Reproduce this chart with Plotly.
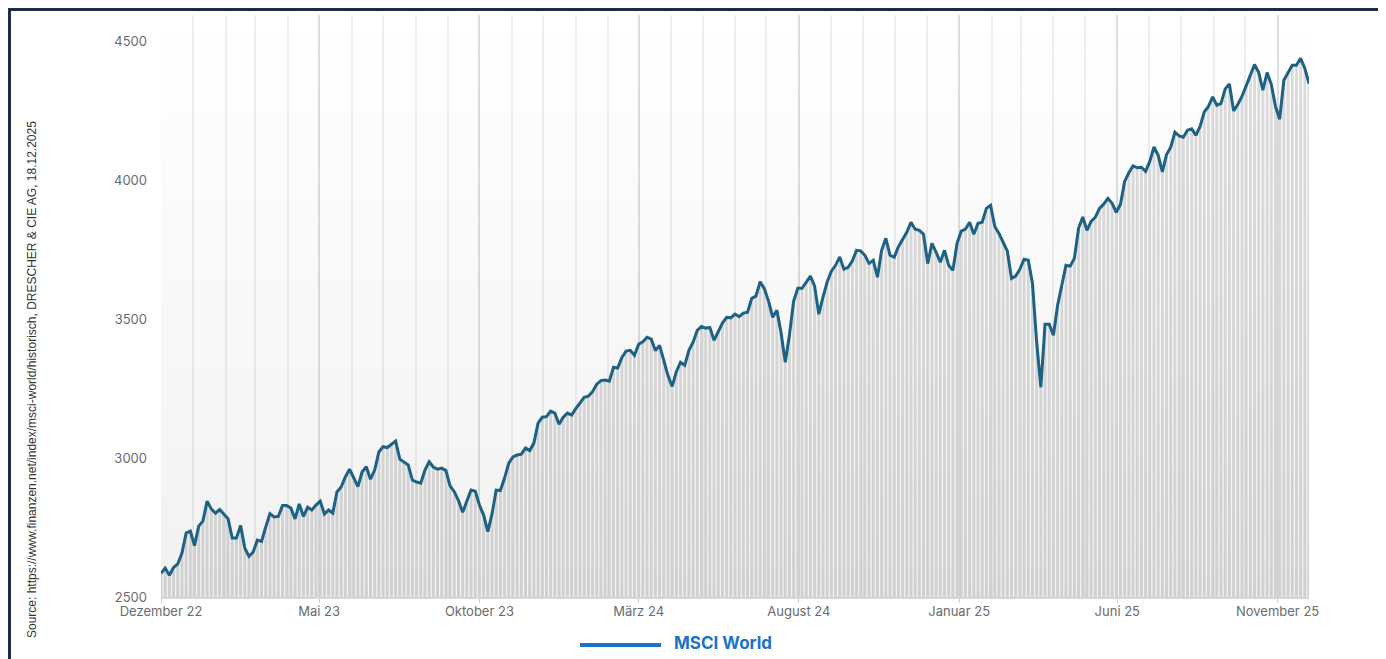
import pandas as pd
import plotly.graph_objects as go

# ---------------- data ----------------
START_DATE = "2022-12-18"
END_DATE = "2025-12-18"
STEP_DAYS = 4

msci_world = [
    2585, 2604, 2578, 2606, 2619, 2658, 2730, 2737, 2685, 2755,
    2773, 2845, 2817, 2802, 2815, 2799, 2782, 2712, 2712, 2757,
    2676, 2646, 2662, 2705, 2700, 2752, 2800, 2788, 2790, 2829,
    2829, 2820, 2781, 2835, 2790, 2823, 2813, 2831, 2845, 2799,
    2813, 2802, 2878, 2896, 2932, 2960, 2928, 2897, 2950, 2969,
    2924, 2957, 3022, 3041, 3038, 3049, 3061, 2996, 2986, 2975,
    2921, 2914, 2910, 2957, 2987, 2968, 2960, 2964, 2955, 2900,
    2879, 2847, 2805, 2847, 2885, 2881, 2831, 2795, 2735, 2798,
    2885, 2883, 2928, 2982, 3004, 3011, 3014, 3036, 3027, 3054,
    3126, 3147, 3149, 3169, 3162, 3122, 3147, 3162, 3155, 3178,
    3198, 3219, 3223, 3239, 3266, 3279, 3281, 3277, 3327, 3324,
    3362, 3385, 3388, 3370, 3410, 3419, 3435, 3428, 3387, 3406,
    3352, 3297, 3258, 3311, 3345, 3334, 3388, 3417, 3460, 3474,
    3468, 3470, 3424, 3453, 3486, 3507, 3505, 3518, 3509, 3522,
    3525, 3575, 3583, 3635, 3610, 3565, 3507, 3532, 3450, 3345,
    3444, 3565, 3611, 3611, 3635, 3655, 3619, 3518, 3579, 3634,
    3673, 3694, 3724, 3680, 3687, 3709, 3748, 3746, 3730, 3701,
    3712, 3651, 3748, 3791, 3730, 3723, 3761, 3786, 3813, 3849,
    3824, 3820, 3806, 3700, 3773, 3741, 3705, 3748, 3694, 3676,
    3773, 3817, 3824, 3849, 3806, 3845, 3849, 3899, 3910, 3834,
    3809, 3777, 3745, 3647, 3655, 3680, 3716, 3712, 3629, 3417,
    3255, 3482, 3482, 3442, 3550, 3622, 3694, 3691, 3719, 3827,
    3868, 3820, 3852, 3867, 3899, 3914, 3935, 3917, 3885, 3914,
    3996, 4027, 4052, 4045, 4047, 4032, 4068, 4120, 4090, 4030,
    4093, 4119, 4173, 4160, 4155, 4180, 4185, 4162, 4194, 4246,
    4266, 4300, 4270, 4277, 4329, 4347, 4250, 4273, 4302, 4340,
    4378, 4417, 4388, 4324, 4388, 4345, 4266, 4220, 4360, 4386,
    4414, 4414, 4439, 4403, 4348,
]

tick_dates = ["2022-12-18", "2023-05-18", "2023-10-18", "2024-03-18",
              "2024-08-18", "2025-01-18", "2025-06-18", "2025-11-18"]
tick_labels = ["Dezember 22", "Mai 23", "Oktober 23", "März 24",
               "August 24", "Januar 25", "Juni 25", "November 25"]
y_ticks = [2500, 3000, 3500, 4000, 4500]

series_name = "MSCI World"
source_text = ("Source: https://www.finanzen.net/index/msci-world/historisch, "
               "DRESCHER & CIE AG, 18.12.2025")

# ---------------- figure ----------------
dates = pd.date_range(START_DATE, END_DATE, freq=f"{STEP_DAYS}D")
Y_MIN, Y_MAX = 2500, 4595

LINE_COLOR = "#1d6184"
LEGEND_COLOR = "#1b72c6"
TEXT_COLOR = "#6b6b6b"
FONT = "Inter, Open Sans, sans-serif"

# plot-area geometry on the page (page has an 8px body margin)
PL, PR, PT, PB = 161, 1309, 15, 597
PW, PH = PR - PL, PB - PT


def px(x):
    return (x - PL) / PW


def py(y):
    return (PB - y) / PH


fig = go.Figure()

# soft vertical background gradient of the plot area
fig.add_trace(go.Scatter(
    x=[dates[0], dates[-1], dates[-1], dates[0], dates[0]],
    y=[Y_MIN, Y_MIN, Y_MAX, Y_MAX, Y_MIN],
    mode="none", fill="toself",
    fillgradient=dict(type="vertical",
                      colorscale=[[0, "rgba(0,0,0,0.055)"], [1, "rgba(0,0,0,0)"]],
                      start=Y_MIN, stop=Y_MAX),
    hoverinfo="skip", showlegend=False,
))

# grey columns under the line
fig.add_trace(go.Bar(
    x=dates, y=msci_world,
    marker=dict(color="#dcdcdc", line=dict(width=0)),
    hoverinfo="skip", showlegend=False,
))

# index line
fig.add_trace(go.Scatter(
    x=dates, y=msci_world, mode="lines", name=series_name,
    line=dict(color=LINE_COLOR, width=3),
    showlegend=False,
))

fig.update_layout(
    width=1386, height=659,
    margin=dict(l=PL - 8, r=1386 + 8 - PR, t=PT - 8, b=659 + 8 - PB),
    paper_bgcolor="white",
    plot_bgcolor="rgba(0,0,0,0)",
    bargap=0.3,
    font=dict(family=FONT, size=13, color=TEXT_COLOR),
    showlegend=False,
    xaxis=dict(
        type="date",
        range=[dates[0], dates[-1]],
        tickmode="array", tickvals=tick_dates, ticktext=tick_labels,
        ticks="outside", ticklen=4, tickcolor="#d0d0d0", tickwidth=1,
        showgrid=True, gridcolor="#dedede", gridwidth=1.5,
        minor=dict(tick0=START_DATE, dtick="M1", showgrid=True,
                   gridcolor="#efefef", gridwidth=1.5, ticks=""),
        showline=True, linecolor="#d6d6d6", linewidth=1.5,
        zeroline=False,
        tickfont=dict(family=FONT, size=13, color=TEXT_COLOR),
        ticklabelstandoff=-2,
    ),
    yaxis=dict(
        range=[Y_MIN, Y_MAX],
        tickmode="array", tickvals=y_ticks,
        showgrid=False, zeroline=False, showline=False,
        ticks="", ticklabelstandoff=13,
        tickfont=dict(family=FONT, size=13, color=TEXT_COLOR),
    ),
    shapes=[
        # navy frame
        dict(type="rect", xref="paper", yref="paper",
             x0=px(9.5), x1=px(1379.5), y0=py(680), y1=py(9.5),
             line=dict(color="#1c2b4b", width=3), fillcolor="rgba(0,0,0,0)",
             layer="below"),
        # legend sample line
        dict(type="line", xref="paper", yref="paper",
             x0=px(580), x1=px(661), y0=py(645), y1=py(645),
             line=dict(color=LEGEND_COLOR, width=4)),
    ],
    annotations=[
        dict(text=f"<b>{series_name}</b>", xref="paper", yref="paper",
             x=px(672), y=py(643),
             xanchor="left", yanchor="middle", showarrow=False,
             font=dict(family=FONT, size=17, color=LEGEND_COLOR)),
        dict(text=source_text, xref="paper", yref="paper",
             x=px(32), y=py(380),
             xanchor="center", yanchor="middle", textangle=-90,
             showarrow=False,
             font=dict(family="Liberation Sans, Arial, sans-serif",
                       size=12, color="#333333")),
    ],
)

fig.write_html("out.html")
